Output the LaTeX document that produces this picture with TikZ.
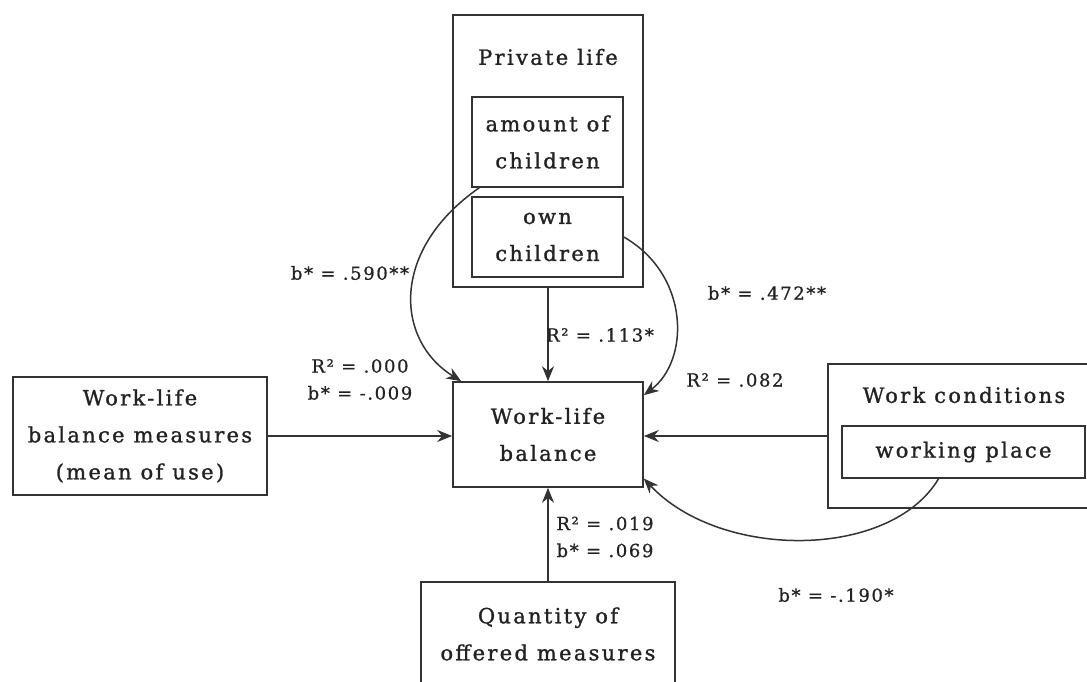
\documentclass[tikz,border=0pt]{standalone}
\usepackage{fontspec}
\setmainfont{DejaVu Serif}
\newfontfamily\boxfont[LetterSpace=11,FakeBold=1.2]{DejaVu Serif}
\newfontfamily\lblfont[LetterSpace=9,FakeBold=0.8]{DejaVu Serif}
\usetikzlibrary{arrows.meta}
\definecolor{linegray}{HTML}{333333}
\definecolor{textcol}{HTML}{222222}

\begin{document}
\begin{tikzpicture}[x=1pt,y=-1pt,
  frame/.style={draw=linegray, line width=1.6pt, inner sep=0pt, rectangle},
  boxtext/.style={font=\boxfont\fontsize{21}{37}\selectfont, align=center, text=textcol},
  lbl/.style={font=\lblfont\fontsize{18}{27}\selectfont, align=center, text=textcol, inner sep=0pt},
  link/.style={draw=linegray, line width=1.5pt, -{Stealth[length=15pt,width=12pt]}},
]
\useasboundingbox (0,0) rectangle (1087,682);

% Private life group
\node[frame, minimum width=190pt, minimum height=272pt] (private) at (548,151) {};
\node[boxtext] (privtitle) at (548,57) {Private life};
\node[frame, boxtext, minimum width=151pt, minimum height=90pt] (amount) at (547.5,142) {amount of\\children};
\node[frame, boxtext, minimum width=151pt, minimum height=80pt] (own) at (547.5,237) {own\\children};

% Central outcome
\node[frame, boxtext, minimum width=190pt, minimum height=105pt] (wlb) at (548,434.5) {Work-life\\balance};

% Left predictor
\node[frame, boxtext, minimum width=254pt, minimum height=118pt] (measures) at (140,436) {Work-life\\balance measures\\(mean of use)};

% Work conditions group
\node[frame, minimum width=270pt, minimum height=144pt] (conditions) at (963,436) {};
\node[boxtext] (condtitle) at (964,395) {Work conditions};
\node[frame, boxtext, minimum width=243pt, minimum height=52pt] (place) at (963.5,452) {working place};

% Bottom predictor
\node[frame, minimum width=254pt, minimum height=130pt] (quantity) at (548,647) {};
\node[boxtext] (quanttext) at (548,634) {Quantity of\\offered measures};

% Straight paths
\draw[link] (private.south) -- (wlb.north);
\draw[link] (measures.east) -- (measures.east -| wlb.west);
\draw[link] (conditions.west) -- (conditions.west -| wlb.east);
\draw[link] (quantity.north) -- (wlb.south);

% Curved paths
\draw[link] ([xshift=8pt]amount.south west) .. controls (390,250) and (395,340) .. ([xshift=9pt]wlb.north west);
\draw[link] (own.east) .. controls (690,275) and (690,360) .. ([yshift=-14pt]wlb.north east);
\draw[link] ([xshift=-25pt]place.south) .. controls (890,560) and (720,560) .. ([yshift=-44pt]wlb.east);

% Coefficients
\node[lbl] (l590) at (350,273) {b* = .590**};
\node[lbl] (l000) at (360,379.5) {R² = .000\\b* = -.009};
\node[lbl] (l113) at (600,335) {R² = .113*};
\node[lbl] (l472) at (767,293) {b* = .472**};
\node[lbl] (l082) at (735,380) {R² = .082};
\node[lbl] (l019) at (605,537) {R² = .019\\b* = .069};
\node[lbl] (l190) at (836,595) {b* = -.190*};
\end{tikzpicture}
\end{document}
